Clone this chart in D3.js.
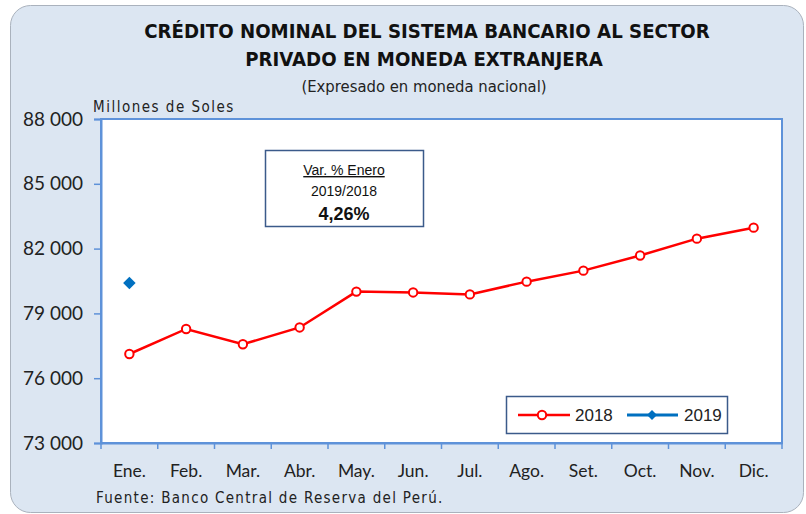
<!DOCTYPE html>
<html>
<head>
<meta charset="utf-8">
<script src="https://d3js.org/d3.v7.min.js"></script>
<style>
  html, body { margin: 0; padding: 0; background: #fff; }
  svg { display: block; }
</style>
</head>
<body>
<svg id="chart" width="806" height="514"></svg>
<script>
const months = ['Ene.', 'Feb.', 'Mar.', 'Abr.', 'May.', 'Jun.', 'Jul.', 'Ago.', 'Set.', 'Oct.', 'Nov.', 'Dic.'];
const values2018 = [77120, 78280, 77570, 78350, 80010, 79970, 79880, 80470, 80980, 81680, 82460, 82970];
const values2019 = [80405];
const yTicks = [73000, 76000, 79000, 82000, 85000, 88000];

const titleFont = "'DejaVu Sans Condensed', 'DejaVu Sans', sans-serif";
const labelFont = "Lato, 'Liberation Sans', sans-serif";
const noteFont = "'DejaVu Sans Condensed', 'DejaVu Sans', sans-serif";
const boxFont = "'Liberation Sans', Arial, sans-serif";

const svg = d3.select('#chart');
const margin = { top: 119, right: 24, bottom: 71, left: 101 };
const width = 806 - margin.left - margin.right;
const height = 514 - margin.top - margin.bottom;
const axisColor = '#5e92d9';

// outer panel
svg.append('rect')
  .attr('x', 10.5).attr('y', 5.5).attr('width', 793).attr('height', 507)
  .attr('rx', 20).attr('fill', '#dce6f2').attr('stroke', '#aab2bd');

// titles
svg.append('text').attr('x', 427).attr('y', 38)
  .attr('text-anchor', 'middle').attr('font-family', titleFont).attr('font-weight', 'bold')
  .attr('font-size', 20.2).attr('fill', '#111').text('CRÉDITO NOMINAL DEL SISTEMA BANCARIO AL SECTOR');
svg.append('text').attr('x', 424).attr('y', 66)
  .attr('text-anchor', 'middle').attr('font-family', titleFont).attr('font-weight', 'bold')
  .attr('font-size', 20.2).attr('fill', '#111').text('PRIVADO EN MONEDA EXTRANJERA');
svg.append('text').attr('x', 424).attr('y', 92)
  .attr('text-anchor', 'middle').attr('font-family', titleFont)
  .attr('font-size', 16.5).attr('fill', '#222').text('(Expresado en moneda nacional)');
svg.append('text').attr('x', 93).attr('y', 112)
  .attr('font-family', noteFont).attr('font-size', 15).attr('letter-spacing', 1.5)
  .attr('fill', '#222').text('Millones de Soles');

const g = svg.append('g').attr('transform', `translate(${margin.left},${margin.top})`);

const x = d3.scaleBand().domain(months).range([0, width]);
const y = d3.scaleLinear().domain([73000, 88000]).range([height, 0]);

// plot area
g.append('rect').attr('width', width).attr('height', height)
  .attr('fill', '#fff').attr('stroke', axisColor).attr('stroke-width', 2);

const fmt = d => d3.format(',')(d).replace(/,/g, ' ');

const yAxis = g.append('g')
  .call(d3.axisLeft(y).tickValues(yTicks).tickFormat(fmt).tickSize(7).tickPadding(11));
yAxis.select('.domain').attr('stroke', axisColor).attr('stroke-width', 2);
yAxis.selectAll('.tick line').attr('stroke', axisColor).attr('stroke-width', 1.5);
yAxis.selectAll('.tick text').attr('font-family', labelFont).attr('font-size', 19).attr('fill', '#222');

const xAxis = g.append('g').attr('transform', `translate(0,${height})`)
  .call(d3.axisBottom(x).tickSize(0).tickPadding(22));
xAxis.select('.domain').attr('stroke', axisColor).attr('stroke-width', 2);
xAxis.selectAll('.tick text').attr('font-family', labelFont).attr('font-size', 17.5).attr('fill', '#222');
// category boundary ticks
g.append('g').selectAll('line').data(d3.range(months.length + 1)).join('line')
  .attr('x1', i => i * x.bandwidth()).attr('x2', i => i * x.bandwidth())
  .attr('y1', height).attr('y2', height + 6)
  .attr('stroke', axisColor).attr('stroke-width', 1.5);

const cx = i => x(months[i]) + x.bandwidth() / 2;

// 2018 series
g.append('path').datum(values2018)
  .attr('fill', 'none').attr('stroke', '#ff0000').attr('stroke-width', 2.5)
  .attr('d', d3.line().x((d, i) => cx(i)).y(d => y(d)));
g.append('g').selectAll('circle').data(values2018).join('circle')
  .attr('cx', (d, i) => cx(i)).attr('cy', d => y(d)).attr('r', 4.2)
  .attr('fill', '#fff').attr('stroke', '#ff0000').attr('stroke-width', 2);

// 2019 series (square rotated into a diamond)
g.append('g').selectAll('path').data(values2019).join('path')
  .attr('transform', (d, i) => `translate(${cx(i)},${y(d)}) rotate(45)`)
  .attr('d', d3.symbol(d3.symbolSquare, 78))
  .attr('fill', '#0070c0');

// annotation box
const ann = svg.append('g');
ann.append('rect').attr('x', 265.5).attr('y', 150.5).attr('width', 158).attr('height', 76)
  .attr('fill', '#fff').attr('stroke', '#3b5a8a').attr('stroke-width', 1.5);
ann.append('text').attr('x', 344).attr('y', 175).attr('text-anchor', 'middle')
  .attr('font-family', boxFont).attr('font-size', 14).attr('fill', '#111')
  .attr('text-decoration', 'underline').text('Var. % Enero');
ann.append('text').attr('x', 344).attr('y', 196).attr('text-anchor', 'middle')
  .attr('font-family', boxFont).attr('font-size', 14).attr('fill', '#111').text('2019/2018');
ann.append('text').attr('x', 344).attr('y', 220).attr('text-anchor', 'middle')
  .attr('font-family', boxFont).attr('font-size', 18).attr('font-weight', 'bold')
  .attr('fill', '#111').text('4,26%');

// legend
const leg = svg.append('g');
leg.append('rect').attr('x', 506.5).attr('y', 396.5).attr('width', 221).attr('height', 37)
  .attr('fill', '#fff').attr('stroke', '#3b5a8a').attr('stroke-width', 1.5);
leg.append('line').attr('x1', 518).attr('x2', 570).attr('y1', 415).attr('y2', 415)
  .attr('stroke', '#ff0000').attr('stroke-width', 2.5);
leg.append('circle').attr('cx', 542).attr('cy', 415).attr('r', 4.2)
  .attr('fill', '#fff').attr('stroke', '#ff0000').attr('stroke-width', 2);
leg.append('text').attr('x', 575).attr('y', 421).attr('font-family', boxFont)
  .attr('font-size', 17).attr('fill', '#222').text('2018');
leg.append('line').attr('x1', 627).attr('x2', 678).attr('y1', 415).attr('y2', 415)
  .attr('stroke', '#0070c0').attr('stroke-width', 3);
leg.append('path').attr('transform', 'translate(652,415) rotate(45)')
  .attr('d', d3.symbol(d3.symbolSquare, 50)).attr('fill', '#0070c0');
leg.append('text').attr('x', 684).attr('y', 421).attr('font-family', boxFont)
  .attr('font-size', 17).attr('fill', '#222').text('2019');

// source
svg.append('text').attr('x', 96).attr('y', 503)
  .attr('font-family', noteFont).attr('font-size', 15).attr('letter-spacing', 1.3)
  .attr('fill', '#222').text('Fuente: Banco Central de Reserva del Perú.');
</script>
</body>
</html>
